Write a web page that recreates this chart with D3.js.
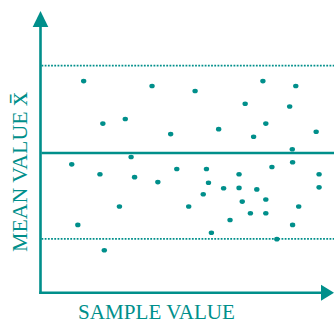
<!DOCTYPE html>
<html>
<head>
<meta charset="utf-8">
<script src="https://cdn.jsdelivr.net/npm/d3@7/dist/d3.min.js"></script>
<style>
  html, body { margin: 0; padding: 0; background: #fff; }
  svg { display: block; }
</style>
</head>
<body>
<svg id="chart" width="334" height="322"></svg>
<script>
// ---- data ----
const sampleValues = [15.0, 38.5, 53.3, 76.6, 87.9, 70.5, 85.8, 21.6, 29.3, 61.4,
  44.9, 77.6, 73.4, 94.9, 86.7, 31.3, 10.9, 20.6, 32.5, 40.5,
  47.0, 57.2, 68.4, 57.9, 63.1, 68.4, 74.5, 86.8, 95.9, 95.9,
  79.7, 56.1, 69.5, 77.6, 27.3, 51.1, 88.9, 72.3, 77.6, 13.0,
  65.3, 86.8, 58.9, 81.4, 22.1];
const meanValues = [74.7, 73.0, 71.3, 74.7, 73.0, 66.9, 66.0, 60.1, 61.7, 58.2,
  56.5, 60.1, 55.6, 57.3, 51.3, 48.6, 46.1, 42.7, 41.7, 40.0,
  44.5, 44.5, 42.7, 39.8, 37.9, 38.0, 37.5, 46.8, 42.7, 38.2,
  45.2, 35.8, 33.3, 34.0, 31.6, 31.6, 31.6, 29.3, 29.3, 25.3,
  27.0, 25.3, 22.6, 20.4, 16.6];
const controlLimits = [
  { name: "UCL", value: 80.0, dashed: true },
  { name: "CL", value: 50.0, dashed: false },
  { name: "LCL", value: 20.5, dashed: true }
];
const xAxisLabel = "SAMPLE VALUE";
const yAxisLabel = "MEAN VALUE ";
const yAxisSymbol = "x\u0304";

// ---- drawing ----
const color = "#008f8b";
const svg = d3.select("#chart");

const x = d3.scaleLinear().domain([0, 100]).range([40, 331]);
const y = d3.scaleLinear().domain([0, 100]).range([298.5, 7.5]);

const axisX0 = 40.5, axisY0 = 292.8;

// control lines
svg.selectAll("line.limit")
  .data(controlLimits)
  .join("line")
  .attr("class", "limit")
  .attr("x1", axisX0 + 1)
  .attr("x2", 334)
  .attr("y1", d => y(d.value))
  .attr("y2", d => y(d.value))
  .attr("stroke", color)
  .attr("stroke-width", d => d.dashed ? 1.8 : 2.6)
  .attr("stroke-dasharray", d => d.dashed ? "1.8,1.4" : null);

// points
const pts = sampleValues.map((v, i) => ({ sx: v, my: meanValues[i] }));
svg.selectAll("ellipse.pt")
  .data(pts)
  .join("ellipse")
  .attr("class", "pt")
  .attr("cx", d => x(d.sx))
  .attr("cy", d => y(d.my))
  .attr("rx", 2.7)
  .attr("ry", 2.3)
  .attr("fill", color);

// axes with arrows
svg.append("line")
  .attr("x1", axisX0).attr("y1", axisY0 + 1.2)
  .attr("x2", axisX0).attr("y2", 26)
  .attr("stroke", color).attr("stroke-width", 2.6);
svg.append("path")
  .attr("d", `M${axisX0},11 L${axisX0 - 7.8},27 L${axisX0 + 7.8},27 Z`)
  .attr("fill", color);

svg.append("line")
  .attr("x1", axisX0 - 1.2).attr("y1", axisY0)
  .attr("x2", 322).attr("y2", axisY0)
  .attr("stroke", color).attr("stroke-width", 2.6);
svg.append("path")
  .attr("d", `M334,${axisY0} L321,${axisY0 - 8} L321,${axisY0 + 8} Z`)
  .attr("fill", color);

// labels
svg.append("text")
  .attr("x", 78)
  .attr("y", 318.5)
  .attr("font-family", "'Liberation Serif', 'Times New Roman', serif")
  .attr("font-size", 21)
  .attr("fill", color)
  .attr("textLength", 157)
  .attr("lengthAdjust", "spacingAndGlyphs")
  .text(xAxisLabel);

const yl = svg.append("text")
  .attr("transform", "translate(27,252) rotate(-90)")
  .attr("font-family", "'Liberation Serif', 'Times New Roman', serif")
  .attr("font-size", 21)
  .attr("fill", color)
  .attr("textLength", 160)
  .attr("lengthAdjust", "spacingAndGlyphs");
yl.append("tspan").text(yAxisLabel);
yl.append("tspan").attr("font-size", 27).text(yAxisSymbol);
</script>
</body>
</html>
